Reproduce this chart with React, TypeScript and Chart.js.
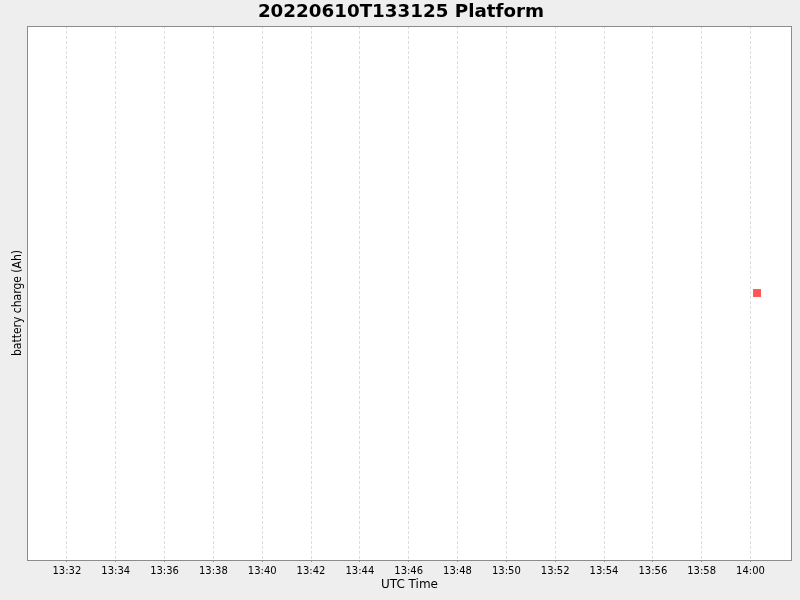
import { Chart, registerables } from 'chart.js';
import { useEffect, useRef } from 'react';

Chart.register(...registerables);

// data (UTC times, battery charge)
const chartTitle = '20220610T133125 Platform';
const yAxisTitle = 'battery charge (Ah)';
const sampleTimes = ['14:00:16'];
const batteryCharge = [3.2];
const tickTimes = ['13:32', '13:34', '13:36', '13:38', '13:40', '13:42', '13:44', '13:46', '13:48', '13:50', '13:52', '13:54', '13:56', '13:58', '14:00'];
const axisStart = '13:30:22';
const axisEnd = '14:01:42';

// 'HH:MM[:SS]' -> minutes since midnight
const toMinutes = (s: string) => {
  const [h, m, sec] = s.split(':').map(Number);
  return h * 60 + m + (sec || 0) / 60;
};
const fmt = (v: number) => {
  const h = Math.floor(v / 60);
  const m = Math.round(v - h * 60);
  return `${String(h).padStart(2, '0')}:${String(m).padStart(2, '0')}`;
};

const framePlugin = {
  id: 'frame',
  beforeDraw(chart: Chart) {
    const { ctx, chartArea: a, width } = chart;
    ctx.save();
    ctx.fillStyle = '#eeeeee';
    ctx.fillRect(0, 0, chart.width, chart.height);
    ctx.fillStyle = '#ffffff';
    ctx.fillRect(a.left, a.top, a.right - a.left, a.bottom - a.top);
    ctx.fillStyle = '#000000';
    ctx.font = 'bold 18.3px "DejaVu Sans"';
    ctx.textAlign = 'center';
    ctx.textBaseline = 'middle';
    ctx.fillText(chartTitle, width / 2 + 1, 12);
    // y axis title, centred a little below the plot middle like the original
    ctx.translate(18, (a.top + a.bottom) / 2 + 10);
    ctx.rotate(-Math.PI / 2);
    ctx.font = '12px "DejaVu Sans Condensed", "DejaVu Sans"';
    ctx.fillText(yAxisTitle, 0, 0);
    ctx.restore();
  },
  afterDraw(chart: Chart) {
    const { ctx, chartArea: a } = chart;
    ctx.save();
    ctx.strokeStyle = '#8c8c8c';
    ctx.lineWidth = 1;
    ctx.strokeRect(a.left + 0.5, a.top + 0.5, a.right - a.left - 1, a.bottom - a.top);
    ctx.restore();
  },
};

const BatteryChart = () => {
  const canvasRef = useRef<HTMLCanvasElement>(null);

  useEffect(() => {
    document.body.style.margin = '0';
    const chart = new Chart(canvasRef.current!, {
      type: 'scatter',
      data: {
        datasets: [
          {
            label: 'battery charge',
            data: sampleTimes.map((t, i) => ({ x: toMinutes(t), y: batteryCharge[i] })),
            backgroundColor: '#ff5555',
            borderWidth: 0,
            pointStyle: 'rect',
            pointRadius: 5.6,
          },
        ],
      },
      options: {
        animation: false,
        responsive: false,
        layout: { padding: { top: 26, right: 8, left: 0, bottom: 0 } },
        plugins: { legend: { display: false }, tooltip: { enabled: false } },
        scales: {
          x: {
            type: 'linear',
            min: toMinutes(axisStart),
            max: toMinutes(axisEnd),
            afterBuildTicks: (s: any) => {
              s.ticks = tickTimes.map((t) => ({ value: toMinutes(t) }));
            },
            afterFit: (s: any) => {
              s.height = 40;
            },
            ticks: {
              callback: (v: any) => fmt(Number(v)),
              font: { family: '"DejaVu Sans"', size: 10 },
              color: '#000000',
              padding: 3,
              maxRotation: 0,
              autoSkip: false,
            },
            grid: { color: '#dddddd', tickLength: 2, tickColor: '#999999' },
            border: { display: false, dash: [3, 2] },
            title: {
              display: true,
              text: 'UTC Time',
              font: { family: '"DejaVu Sans"', size: 12 },
              color: '#000000',
              padding: { top: 0, bottom: 8 },
            },
          },
          y: {
            min: batteryCharge[0] - 1,
            max: batteryCharge[0] + 1,
            afterFit: (s: any) => {
              s.width = 27;
            },
            ticks: { display: false },
            grid: { display: false },
            border: { display: false },
          },
        },
      },
      plugins: [framePlugin],
    });
    return () => chart.destroy();
  }, []);

  return <canvas ref={canvasRef} width="800" height="600"></canvas>;
};

export default function App() {
  return <BatteryChart />;
}
